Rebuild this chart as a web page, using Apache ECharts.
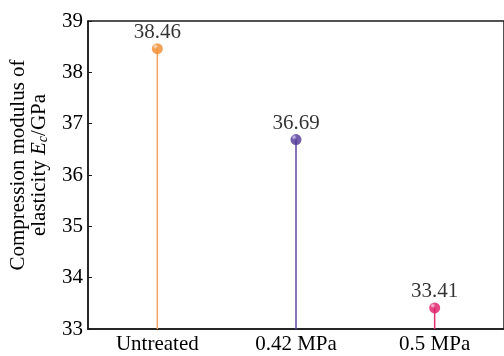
<!DOCTYPE html>
<html>
<head>
<meta charset="utf-8">
<script src="https://cdn.jsdelivr.net/npm/echarts@6/dist/echarts.min.js"></script>
<style>html,body{margin:0;padding:0;background:#fff;}#c{width:504px;height:356px;}</style>
</head>
<body>
<div id="c"></div>
<script>
const categories = ['Untreated', '0.42 MPa', '0.5 MPa'];
const modulusValues = [38.46, 36.69, 33.41];
const valueLabels = ['38.46', '36.69', '33.41'];
const yTicks = [33, 34, 35, 36, 37, 38, 39];
const colors = ['#F28A2E', '#4F3494', '#DE1A66'];
const stemColors = ['#F5A25E', '#5E48A0', '#E0306F'];
const highlights = ['#FFE2C4', '#C9BCEB', '#FFC0D6'];

const FONT = '"Liberation Serif", "Times New Roman", serif';
const chart = echarts.init(document.getElementById('c'));

function markerColor(i) {
  return new echarts.graphic.RadialGradient(0.32, 0.28, 0.8, [
    { offset: 0, color: highlights[i] },
    { offset: 0.3, color: colors[i] },
    { offset: 1, color: colors[i] }
  ]);
}

chart.setOption({
  animation: false,
  grid: { left: 88, right: -4, top: 21, bottom: 27, show: true, borderColor: '#1a1a1a', borderWidth: 1.5, backgroundColor: 'transparent' },
  xAxis: {
    type: 'category',
    data: categories,
    axisLine: { lineStyle: { color: '#1a1a1a', width: 1.5 } },
    axisTick: { show: false },
    axisLabel: { color: '#000', fontFamily: FONT, fontSize: 21, margin: 5 }
  },
  yAxis: {
    type: 'value',
    min: yTicks[0],
    max: yTicks[yTicks.length - 1],
    interval: 1,
    axisLine: { show: true, lineStyle: { color: '#1a1a1a', width: 1.5 } },
    axisTick: { show: true, inside: true, length: 4, lineStyle: { color: '#1a1a1a', width: 1 } },
    splitLine: { show: false },
    axisLabel: { color: '#000', fontFamily: FONT, fontSize: 21, margin: 5 }
  },
  graphic: [{
    type: 'text',
    x: 29,
    y: 165,
    rotation: Math.PI / 2,
    style: {
      text: '{a|Compression modulus of}\n{a|elasticity }{i|E}{s|c}{a|/GPa}',
      align: 'center',
      verticalAlign: 'middle',
      fill: '#000',
      rich: {
        a: { fontFamily: FONT, fontSize: 21, lineHeight: 21, fill: '#000' },
        i: { fontFamily: FONT, fontSize: 21, fontStyle: 'italic', lineHeight: 21, fill: '#000' },
        s: { fontFamily: FONT, fontSize: 14, fontStyle: 'italic', verticalAlign: 'bottom', lineHeight: 21, padding: [7, 0, 0, 0], fill: '#000' }
      }
    }
  }],
  series: [
    {
      type: 'bar',
      barWidth: 1.5,
      clip: true,
      data: modulusValues.map((v, i) => ({ value: v, itemStyle: { color: stemColors[i] } })),
      silent: true
    },
    {
      type: 'scatter',
      symbol: 'circle',
      symbolSize: 11,
      data: modulusValues.map((v, i) => ({ value: v, itemStyle: { color: markerColor(i) } })),
      label: {
        show: true,
        position: 'top',
        distance: 0,
        color: '#000',
        fontFamily: FONT,
        fontSize: 21,
        formatter: p => valueLabels[p.dataIndex]
      },
      z: 5
    }
  ]
});
</script>
</body>
</html>
